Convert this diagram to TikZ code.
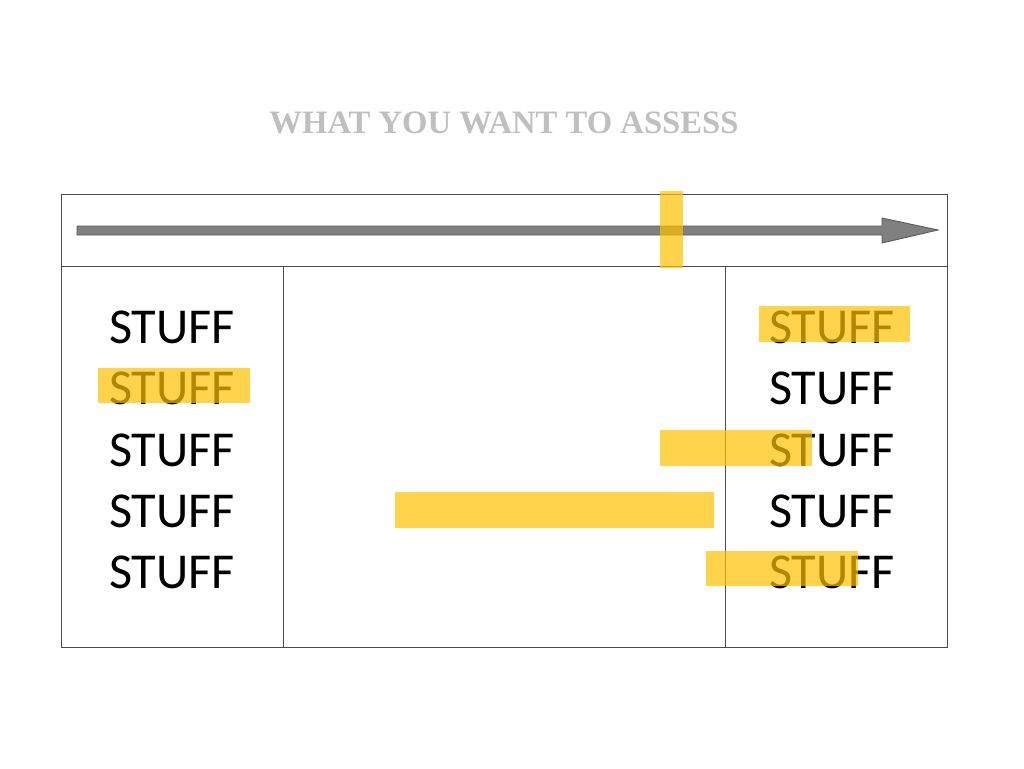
\documentclass[tikz,border=0pt]{standalone}
\usepackage{fontspec}
\setmainfont{Carlito}
\newfontfamily\titlefont{Liberation Serif}
\usetikzlibrary{positioning}
\definecolor{marker}{RGB}{255,192,0}
\definecolor{titlegray}{RGB}{191,191,191}

\begin{document}
\begin{tikzpicture}[x=0.02cm, y=-0.02cm,
    cell/.style={font=\fontsize{28.6}{30}\selectfont, inner sep=0pt},
    hl/.style={fill=marker, fill opacity=0.7},
    frame/.style={draw=black!70, line width=0.45pt}]

        \useasboundingbox (0,0) rectangle (1024,768);

        \node[font=\titlefont\bfseries\fontsize{18.6}{20}\selectfont, text=titlegray] (title) at (504,123) {WHAT YOU WANT TO ASSESS};

        % table
        \draw[frame] (61,194) rectangle (947,647);
        \draw[frame] (61,266) -- (947,266);
        \draw[frame] (283,266) -- (283,647);
        \draw[frame] (725,266) -- (725,647);

        % scale arrow
        \draw[fill=black!50, draw=black!65, line width=0.5pt]
            (77,226) -- (882,226) -- (882,218) -- (938,230) -- (882,243) -- (882,235) -- (77,235) -- cycle;

        \foreach \i/ \y in {1/327, 2/388, 3/450, 4/511, 5/572}{
            \node[cell] (l\i) at (172,\y) {STUFF};
            \node[cell] (r\i) at (832,\y) {STUFF};
        }

        % highlights
        \fill[hl] (660,191) rectangle (683,268);
        \fill[hl] (759,306) rectangle (910,342);
        \fill[hl] (98,368) rectangle (250,403);
        \fill[hl] (660,430) rectangle (812,466);
        \fill[hl] (395,492) rectangle (714,528);
        \fill[hl] (706,551) rectangle (858,586);

\end{tikzpicture}
\end{document}
